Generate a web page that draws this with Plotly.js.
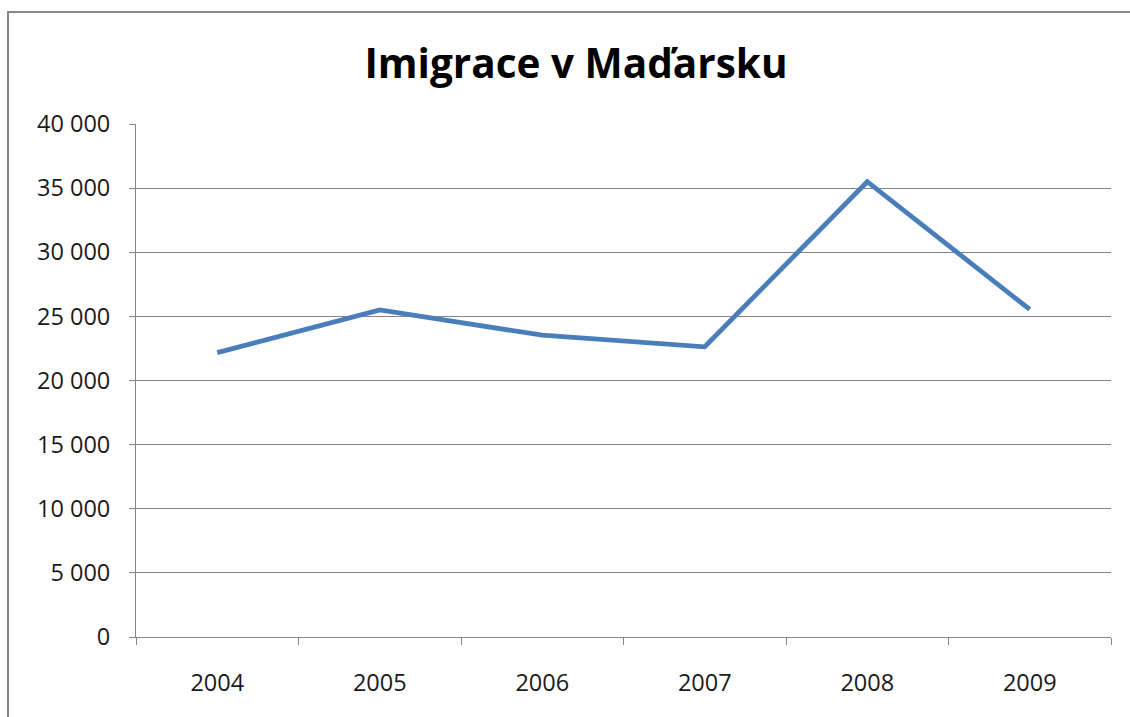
<!DOCTYPE html>
<html>
<head>
<meta charset="utf-8">
<script src="https://cdn.plot.ly/plotly-3.0.1.min.js"></script>
<style>
html,body{margin:0;padding:0;background:#fff;overflow:hidden;}
#chart{position:absolute;left:0;top:0;width:1130px;height:717px;}
#frame{position:absolute;left:7px;top:11px;width:1300px;height:900px;border:2px solid #878787;pointer-events:none;}
</style>
</head>
<body>
<div id="chart"></div>
<div id="frame"></div>
<script>
const years = ['2004', '2005', '2006', '2007', '2008', '2009'];
const immigrants = [22170, 25500, 23530, 22630, 35500, 25540];
const yTicks = [0, 5000, 10000, 15000, 20000, 25000, 30000, 35000, 40000];
const chartTitle = 'Imigrace v Maďarsku';

const trace = {
  x: years,
  y: immigrants,
  type: 'scatter',
  mode: 'lines',
  line: {color: '#4a7ebb', width: 4.8},
  hoverinfo: 'x+y'
};

const layout = {
  width: 1130,
  height: 717,
  margin: {l: 136, r: 19, t: 124, b: 80},
  paper_bgcolor: '#ffffff',
  plot_bgcolor: '#ffffff',
  separators: ', ',
  showlegend: false,
  font: {family: '"Open Sans", "Noto Sans", sans-serif', color: '#1a1a1a', size: 23},
  title: {
    text: '<b>' + chartTitle + '</b>',
    font: {family: '"Open Sans", "Noto Sans", sans-serif', size: 40.5, color: '#000'},
    xref: 'container', x: 0.5097, xanchor: 'center',
    yref: 'container', y: 0.911, yanchor: 'middle'
  },
  xaxis: {
    type: 'category',
    range: [-0.5, 5.5],
    tickson: 'boundaries',
    ticks: 'outside',
    ticklen: 7,
    tickcolor: '#868686',
    tickwidth: 1,
    showline: true,
    linecolor: '#868686',
    linewidth: 1,
    showgrid: false,
    zeroline: false,
    ticklabelstandoff: 25,
    tickfont: {size: 23.5}
  },
  yaxis: {
    range: [0, 40000],
    tickvals: yTicks,
    tickformat: ',d',
    ticks: 'outside',
    ticklen: 6,
    tickcolor: '#868686',
    tickwidth: 1,
    showline: true,
    linecolor: '#868686',
    linewidth: 1,
    showgrid: true,
    gridcolor: '#868686',
    gridwidth: 1,
    zeroline: false,
    ticklabelstandoff: 14,
    tickfont: {size: 23.5}
  }
};

Plotly.newPlot('chart', [trace], layout, {displayModeBar: false, staticPlot: true});
</script>
</body>
</html>
